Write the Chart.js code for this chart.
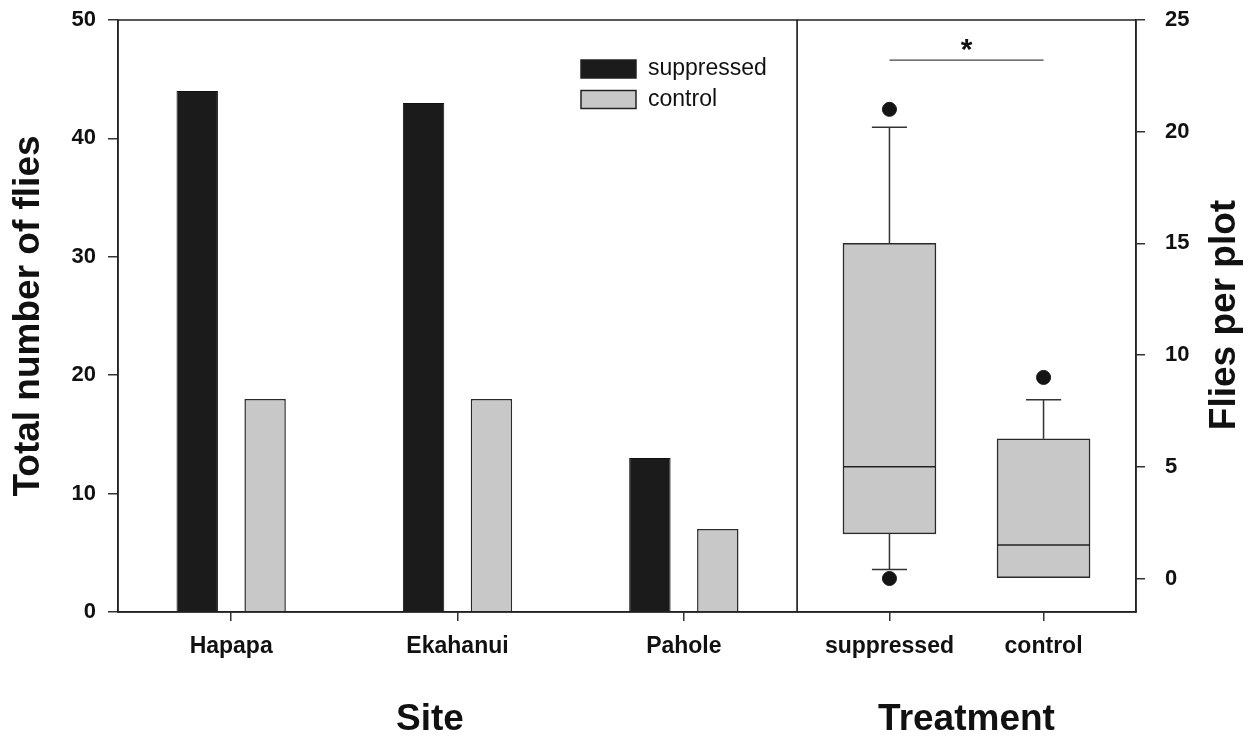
<!DOCTYPE html>
<html><head><meta charset="utf-8">
<script src="https://cdn.jsdelivr.net/npm/chart.js@4.4.1/dist/chart.umd.min.js"></script>
<style>
html,body{margin:0;padding:0;background:#fff;width:1255px;height:736px;overflow:hidden}
#left{position:absolute;left:0;top:0}
#right{position:absolute;left:797px;top:0}
</style></head><body>
<canvas id="left" width="800" height="736"></canvas>
<canvas id="right" width="458" height="736"></canvas>
<script>
// ---- Left panel: totals per site ----
const sites = ['Hapapa', 'Ekahanui', 'Pahole'];
const suppressedTotals = [44, 43, 13];
const controlTotals = [18, 18, 7];
const leftTicks = [0, 10, 20, 30, 40, 50];

// ---- Right panel: flies per plot (box plot summary) ----
const treatments = ['suppressed', 'control'];
const whiskerLow = [0.4, 0];
const q1 = [2.0, 0];
const median = [5.0, 1.5];
const q3 = [15.0, 6.25];
const whiskerHigh = [20.2, 8.0];
const outliers = [[21, 0], [9]];
const rightTicks = [0, 5, 10, 15, 20, 25];
const sigPair = [1, 2];
const sigLevel = 23.2;
const sigLabel = '*';

const FONT = '"Liberation Sans", Arial, Helvetica, sans-serif';
Chart.defaults.font.family = FONT;
Chart.defaults.color = '#111';

const LINE = '#222';

const framePlugin = {
  id: 'frame',
  afterDatasetsDraw(chart) {
    const a = chart.chartArea, ctx = chart.ctx;
    ctx.save();
    ctx.strokeStyle = LINE;
    ctx.lineWidth = 1.5;
    ctx.strokeRect(a.left, a.top, a.right - a.left, a.bottom - a.top);
    ctx.restore();
  }
};

const leftExtras = {
  id: 'leftExtras',
  afterDraw(chart) {
    const ctx = chart.ctx;
    ctx.save();
    // legend
    chart.data.datasets.forEach((ds, i) => {
      const y = 60 + i * 30.5;
      ctx.fillStyle = ds.backgroundColor;
      ctx.fillRect(581, y, 55, 18);
      ctx.strokeStyle = LINE;
      ctx.lineWidth = 1.5;
      ctx.strokeRect(581, y, 55, 18);
      ctx.fillStyle = '#111';
      ctx.font = '23px ' + FONT;
      ctx.textAlign = 'left';
      ctx.textBaseline = 'middle';
      ctx.fillText(ds.label, 648, y + 9);
    });
    // x title
    ctx.font = 'bold 37px ' + FONT;
    ctx.textAlign = 'center';
    ctx.textBaseline = 'alphabetic';
    ctx.fillText('Site', 430, 730);
    ctx.restore();
  }
};

function noPadY(s, w) { s.width = w; s.paddingTop = 0; s.paddingBottom = 0; }
function noPadX(s, h) { s.height = h; s.paddingLeft = 0; s.paddingRight = 0; }

new Chart(document.getElementById('left'), {
  type: 'bar',
  data: {
    labels: sites,
    datasets: [
      { label: 'suppressed', data: suppressedTotals, backgroundColor: '#1b1b1b', borderColor: '#111', borderWidth: 1, categoryPercentage: 0.6, barPercentage: 0.61 },
      { label: 'control', data: controlTotals, backgroundColor: '#c8c8c8', borderColor: '#2a2a2a', borderWidth: 1.5, categoryPercentage: 0.6, barPercentage: 0.61 }
    ]
  },
  options: {
    responsive: false, animation: false, devicePixelRatio: 1,
    layout: { autoPadding: false, padding: { left: 4, right: 3, top: 20, bottom: 0 } },
    plugins: { legend: { display: false }, tooltip: { enabled: false } },
    scales: {
      x: {
        grid: { drawOnChartArea: false, offset: false, tickLength: 9, color: '#333', lineWidth: 1.5 },
        border: { display: true, color: LINE, width: 1.5 },
        ticks: { font: { size: 23, weight: 'bold' }, padding: 12, color: '#111', maxRotation: 0, autoSkip: false },
        afterFit(s) { noPadX(s, 124); }
      },
      y: {
        min: 0, max: 50,
        afterBuildTicks(s) { s.ticks = leftTicks.map(v => ({ value: v })); },
        grid: { drawOnChartArea: false, tickLength: 10, color: '#333', lineWidth: 1.5 },
        border: { display: true, color: LINE, width: 1.5 },
        ticks: { font: { size: 22, weight: 'bold' }, padding: 12, color: '#111' },
        title: { display: true, text: 'Total number of flies', font: { size: 37, weight: 'bold' }, padding: { top: 3, bottom: 0 }, color: '#111' },
        afterFit(s) { noPadY(s, 114); }
      }
    }
  },
  plugins: [framePlugin, leftExtras]
});

// build box-plot pieces from the summary arrays
const BOX_HALF = 0.3, CAP_HALF = 0.114;
const boxData = treatments.map((t, i) => ({ x: i + 1, y: [q1[i], q3[i]] }));
const medianData = [];
const whiskerData = [];
const outlierData = [];
treatments.forEach((t, i) => {
  const c = i + 1;
  medianData.push({ x: c - BOX_HALF, y: median[i] }, { x: c + BOX_HALF, y: median[i] }, { x: c, y: null });
  if (whiskerHigh[i] > q3[i]) {
    whiskerData.push({ x: c, y: q3[i] }, { x: c, y: whiskerHigh[i] }, { x: c, y: null });
    whiskerData.push({ x: c - CAP_HALF, y: whiskerHigh[i] }, { x: c + CAP_HALF, y: whiskerHigh[i] }, { x: c, y: null });
  }
  if (whiskerLow[i] < q1[i]) {
    whiskerData.push({ x: c, y: q1[i] }, { x: c, y: whiskerLow[i] }, { x: c, y: null });
    whiskerData.push({ x: c - CAP_HALF, y: whiskerLow[i] }, { x: c + CAP_HALF, y: whiskerLow[i] }, { x: c, y: null });
  }
  outliers[i].forEach(v => outlierData.push({ x: c, y: v }));
});
const sigData = sigPair.map(x => ({ x: x, y: sigLevel }));

const rightExtras = {
  id: 'rightExtras',
  afterDraw(chart) {
    const ctx = chart.ctx;
    const xs = chart.scales.x, ys = chart.scales.y;
    ctx.save();
    ctx.fillStyle = '#111';
    // significance asterisk
    ctx.font = 'bold 30px ' + FONT;
    ctx.textAlign = 'center';
    ctx.textBaseline = 'alphabetic';
    ctx.fillText(sigLabel, xs.getPixelForValue((sigPair[0] + sigPair[1]) / 2), ys.getPixelForValue(sigLevel) - 1);
    // x title
    ctx.font = 'bold 37px ' + FONT;
    ctx.fillText('Treatment', (chart.chartArea.left + chart.chartArea.right) / 2, 730);
    // right y title
    ctx.translate(428, 315);
    ctx.rotate(-Math.PI / 2);
    ctx.textBaseline = 'middle';
    ctx.fillText('Flies per plot', 0, 0);
    ctx.restore();
  }
};

new Chart(document.getElementById('right'), {
  type: 'bar',
  data: {
    datasets: [
      { type: 'scatter', label: 'outliers', data: outlierData, pointRadius: 7, pointBackgroundColor: '#141414', pointBorderColor: '#141414', order: 0 },
      { type: 'line', label: 'median', data: medianData, borderColor: '#222', borderWidth: 1.5, pointRadius: 0, spanGaps: false, order: 1 },
      { type: 'line', label: 'whiskers', data: whiskerData, borderColor: '#333', borderWidth: 1.5, pointRadius: 0, spanGaps: false, order: 2 },
      { type: 'line', label: 'sig', data: sigData, borderColor: '#444', borderWidth: 1.2, pointRadius: 0, order: 2 },
      { type: 'bar', label: 'box', data: boxData, backgroundColor: '#c8c8c8', borderColor: '#2a2a2a', borderWidth: 1.5, borderSkipped: false, barThickness: 93, order: 3 }
    ]
  },
  options: {
    responsive: false, animation: false, devicePixelRatio: 1,
    layout: { autoPadding: false, padding: { left: 0, right: 0, top: 20, bottom: 0 } },
    plugins: { legend: { display: false }, tooltip: { enabled: false } },
    scales: {
      x: {
        type: 'linear', min: 0.4, max: 2.6, offset: false,
        afterBuildTicks(s) { s.ticks = treatments.map((t, i) => ({ value: i + 1 })); },
        grid: { drawOnChartArea: false, offset: false, tickLength: 9, color: '#333', lineWidth: 1.5 },
        border: { display: true, color: LINE, width: 1.5 },
        ticks: { font: { size: 23, weight: 'bold' }, padding: 12, color: '#111', maxRotation: 0, autoSkip: false,
                 callback: (v) => treatments[Math.round(v) - 1] },
        afterFit(s) { noPadX(s, 124); }
      },
      y: {
        position: 'right', min: -1.5, max: 25,
        afterBuildTicks(s) { s.ticks = rightTicks.map(v => ({ value: v })); },
        grid: { drawOnChartArea: false, tickLength: 9, color: '#333', lineWidth: 1.5 },
        border: { display: true, color: LINE, width: 1.5 },
        ticks: { font: { size: 22, weight: 'bold' }, padding: 20, color: '#111' },
        afterFit(s) { noPadY(s, 119); }
      }
    }
  },
  plugins: [framePlugin, rightExtras]
});
</script>
</body></html>
